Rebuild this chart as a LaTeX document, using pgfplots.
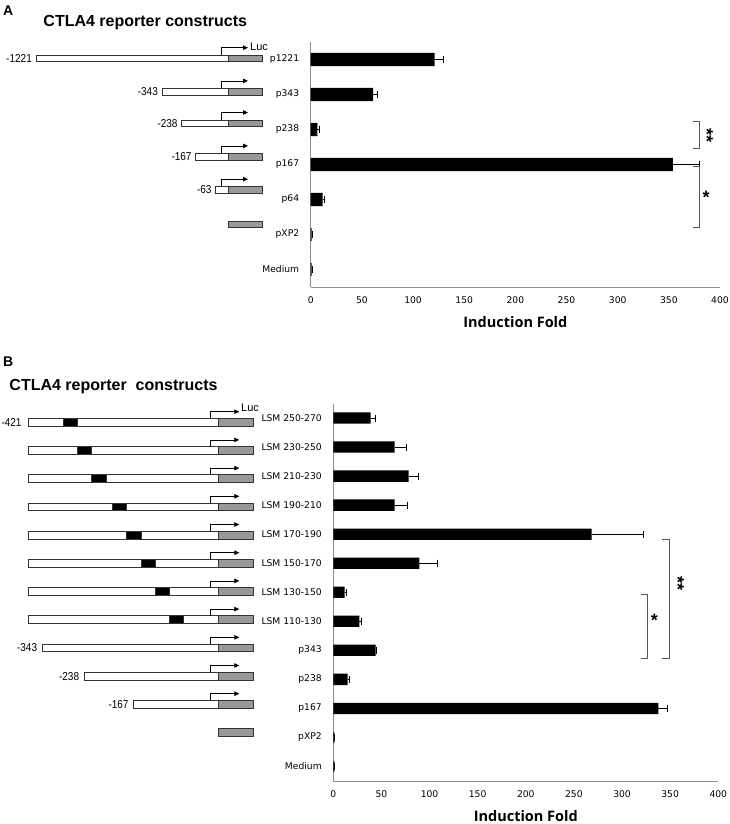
\documentclass[border=0pt]{standalone}
\usepackage{fontspec}
\setmainfont{Liberation Sans}
\newfontfamily\dejavu{DejaVu Sans}
\newfontfamily\opensans{Open Sans}
\usepackage{pgfplots}
\pgfplotsset{compat=1.18}
\usepackage{pgfplotstable}
\usetikzlibrary{arrows.meta}

\definecolor{axisgray}{HTML}{8C8C8C}
\definecolor{lucgray}{HTML}{999999}
\definecolor{brk}{HTML}{555555}

% pos = category (0 = bottom), val = induction fold, err = +error
\pgfplotstableread{
pos val err
6 121 9
5 61 4.5
4 6.5 2
3 354 26
2 11.7 2
1 1 0.4
0 1 0.4
}\dataA

\pgfplotstableread{
pos val err
12 38.8 4.5
11 63.8 12.4
10 78.3 9.7
9 63.8 13
8 268.5 53.7
7 89.4 19
6 11.8 2
5 27 2
4 44 1
3 15 2
2 337.7 9.7
1 1 0.4
0 1 0.4
}\dataB

\pgfplotsset{
  panel/.style={
    scale only axis, anchor=south west, clip=false,
    xmin=0, xmax=400, xtick={0,50,...,400},
    axis lines*=left, axis line style={axisgray, line width=0.9bp},
    major tick length=0pt,
    /pgf/number format/assume math mode=true,
    xticklabel style={font=\dejavu\fontsize{9.2bp}{11bp}\selectfont, yshift=-6bp},
    yticklabel style={font=\dejavu\fontsize{9.2bp}{11bp}\selectfont, xshift=-8bp},
    xlabel={Induction Fold},
    xlabel style={font=\opensans\bfseries\fontsize{14.5bp}{16bp}\selectfont,
      at={(axis description cs:0.5,0)}, anchor=center, yshift=-35bp},
    xbar,
  },
  ebars/.style={fill=black, draw=none,
    error bars/.cd, x dir=plus, x explicit,
    error bar style={black, line width=0.8bp},
    error mark options={black, rotate=90, mark size=3.5bp, line width=0.8bp}},
}

\tikzset{
  boxline/.style={draw=black!80, line width=0.8bp},
  promarrow/.style={draw=black, line width=0.8bp, -{Triangle[length=5bp,width=4.5bp]}},
  numlab/.style={inner sep=0pt, xscale=0.87, font=\fontsize{11.5bp}{13bp}\selectfont},
  stars/.style={inner sep=0pt, font=\bfseries\fontsize{18bp}{18bp}\selectfont},
}

\begin{document}
\begin{tikzpicture}
\useasboundingbox (0,0) rectangle (730bp,-824bp);

% ---------- panel A ----------
\begin{axis}[panel, at={(310.7bp,-287bp)}, width=409.3bp, height=245bp,
  bar width=13.3bp, ymin=-0.5, ymax=6.5,
  ytick={0,...,6}, yticklabels={Medium,pXP2,p64,p167,p238,p343,p1221}]
\addplot[ebars] table[x=val, y=pos, x error=err] {\dataA};
\draw[brk, line width=0.9bp] (axis cs:373.5,4.223) -- (axis cs:380.3,4.223)
  -- (axis cs:380.3,3.471) -- (axis cs:373.5,3.471);
\node[stars, rotate=-90] at (axis cs:387,3.84) {**};
\draw[brk, line width=0.9bp] (axis cs:373.5,2.94) -- (axis cs:380.3,2.94)
  -- (axis cs:380.3,1.21) -- (axis cs:373.5,1.21);
\node[stars] at (axis cs:386.5,2.05) {*};
\end{axis}

% ---------- panel B ----------
\begin{axis}[panel, at={(333.3bp,-781bp)}, width=385bp, height=377.5bp,
  bar width=11.3bp, ymin=-0.5, ymax=12.5,
  ytick={0,...,12}, yticklabels={Medium,pXP2,p167,p238,p343,LSM 110-130,LSM 130-150,
    LSM 150-170,LSM 170-190,LSM 190-210,LSM 210-230,LSM 230-250,LSM 250-270}]
\addplot[ebars] table[x=val, y=pos, x error=err] {\dataB};
\draw[brk, line width=0.9bp] (axis cs:341.2,7.82) -- (axis cs:348.8,7.82)
  -- (axis cs:348.8,3.73) -- (axis cs:341.2,3.73);
\node[stars, rotate=-90] at (axis cs:358,6.31) {**};
\draw[brk, line width=0.9bp] (axis cs:319.4,5.91) -- (axis cs:326.6,5.91)
  -- (axis cs:326.6,3.73) -- (axis cs:319.4,3.73);
\node[stars] at (axis cs:333.5,5.05) {*};
\end{axis}

% ---------- schematic constructs ----------
\begin{scope}[x=1bp, y=-1bp]
\node[anchor=base west, inner sep=0pt, font=\bfseries\fontsize{14bp}{16bp}\selectfont] at (3,15) {A};
\node[anchor=base west, inner sep=0pt, font=\bfseries\fontsize{16bp}{18bp}\selectfont] at (43.3,26.7) {CTLA4 reporter constructs};
\node[anchor=base west, inner sep=0pt, font=\bfseries\fontsize{14bp}{16bp}\selectfont] at (3,366.7) {B};
\node[anchor=base west, inner sep=0pt, font=\bfseries\fontsize{16bp}{18bp}\selectfont] at (9.3,390) {CTLA4 reporter\ \ constructs};

% panel A rows
\foreach \l/\yy/\lab in {36/58.5/-1221, 162/91.7/-343, 181.7/123.3/-238, 195.7/156.7/-167, 215.7/190/-63} {
  \draw[boxline, fill=white] (\l,\yy-3.25) rectangle (228,\yy+3.25);
  \draw[boxline, fill=lucgray] (228,\yy-3.25) rectangle (262,\yy+3.25);
  \draw[promarrow] (221,\yy-3.25) -- (221,\yy-10.8) -- (248,\yy-10.8);
  \node[numlab, anchor=east] at (\l-4,\yy) {\lab};
}
\draw[boxline, fill=lucgray] (228,221.05) rectangle (262,227.55);
\node[numlab, xscale=1.15, anchor=base west, font=\fontsize{11bp}{13bp}\selectfont] at (250,50) {Luc};

% panel B rows with linker-scanning mutation
\foreach \i/\m in {0/63.3, 1/77.3, 2/91.7, 3/112.3, 4/126.7, 5/141, 6/155, 7/169} {
  \pgfmathsetmacro\yy{422.3+28.2*\i}
  \draw[boxline, fill=white] (28.3,\yy-3.85) rectangle (218.3,\yy+3.85);
  \draw[boxline, fill=black] (\m,\yy-3.85) rectangle (\m+14.4,\yy+3.85);
  \draw[boxline, fill=lucgray] (218.3,\yy-3.85) rectangle (253.3,\yy+3.85);
  \draw[promarrow] (210.7,\yy-3.85) -- (210.7,\yy-10.6) -- (239.3,\yy-10.6);
}
\foreach \i/\l/\lab in {8/42.3/-343, 9/84.3/-238, 10/133.7/-167} {
  \pgfmathsetmacro\yy{422.3+28.2*\i}
  \draw[boxline, fill=white] (\l,\yy-3.85) rectangle (218.3,\yy+3.85);
  \draw[boxline, fill=lucgray] (218.3,\yy-3.85) rectangle (253.3,\yy+3.85);
  \draw[promarrow] (210.7,\yy-3.85) -- (210.7,\yy-10.6) -- (239.3,\yy-10.6);
  \node[numlab, anchor=east] at (\l-5,\yy) {\lab};
}
\draw[boxline, fill=lucgray] (218.3,728.65) rectangle (253.3,736.35);
\node[numlab, anchor=east] at (21.7,422.3) {-421};
\node[numlab, xscale=1.15, anchor=base west, font=\fontsize{11bp}{13bp}\selectfont] at (241,411.7) {Luc};
\end{scope}
\end{tikzpicture}
\end{document}
